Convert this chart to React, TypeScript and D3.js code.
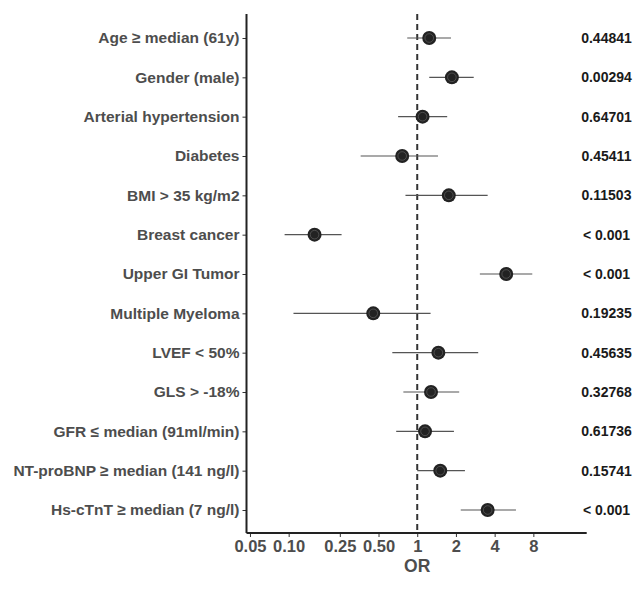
import { useEffect, useRef } from 'react';
import * as d3 from 'd3';

const labels = [
  'Age ≥ median (61y)',
  'Gender (male)',
  'Arterial hypertension',
  'Diabetes',
  'BMI > 35 kg/m2',
  'Breast cancer',
  'Upper GI Tumor',
  'Multiple Myeloma',
  'LVEF < 50%',
  'GLS > -18%',
  'GFR ≤ median (91ml/min)',
  'NT-proBNP ≥ median (141 ng/l)',
  'Hs-cTnT ≥ median (7 ng/l)',
];
const oddsRatio = [1.24, 1.86, 1.1, 0.764, 1.76, 0.159, 4.92, 0.455, 1.46, 1.28, 1.15, 1.51, 3.53];
const ciLow = [0.836, 1.24, 0.71, 0.363, 0.81, 0.093, 3.07, 0.109, 0.64, 0.78, 0.686, 1.0, 2.18];
const ciHigh = [1.83, 2.75, 1.71, 1.45, 3.53, 0.258, 7.85, 1.27, 2.98, 2.12, 1.93, 2.35, 5.86];
const pValues = [
  '0.44841', '0.00294', '0.64701', '0.45411', '0.11503', '< 0.001', '< 0.001',
  '0.19235', '0.45635', '0.32768', '0.61736', '0.15741', '< 0.001',
];
const xTicks = [0.05, 0.1, 0.25, 0.5, 1, 2, 4, 8];
const xTickLabels = ['0.05', '0.10', '0.25', '0.50', '1', '2', '4', '8'];

export default function App() {
  const svgRef = useRef<SVGSVGElement>(null);

  useEffect(() => {
    const width = 633;
    const height = 590;
    const font = '"Liberation Sans", Arial, sans-serif';
    const axisX = 246.5;
    const axisTop = 14;
    const axisBottom = 533;

    const x = d3.scaleLog().base(2).domain([0.047, 20.8]).range([axisX, 586.7]);
    const y = d3.scalePoint<string>().domain(labels).range([38, 510]);

    const rows = labels.map((label, i) => ({
      label,
      or: oddsRatio[i],
      lo: ciLow[i],
      hi: ciHigh[i],
      p: pValues[i],
    }));

    const svg = d3.select(svgRef.current).attr('width', width).attr('height', height);
    svg.selectAll('*').remove();
    svg.append('rect').attr('width', width).attr('height', height).attr('fill', '#fff');

    // reference line at OR = 1
    svg
      .append('line')
      .attr('x1', x(1))
      .attr('x2', x(1))
      .attr('y1', axisTop)
      .attr('y2', axisBottom)
      .attr('stroke', '#333')
      .attr('stroke-width', 2)
      .attr('stroke-dasharray', '6,4');

    // Confidence intervals
    svg
      .append('g')
      .selectAll('line')
      .data(rows)
      .enter()
      .append('line')
      .attr('x1', d => x(d.lo))
      .attr('x2', d => x(d.hi))
      .attr('y1', d => y(d.label)!)
      .attr('y2', d => y(d.label)!)
      .attr('stroke', '#555')
      .attr('stroke-width', 1.1);

    // Points
    const pts = svg.append('g').selectAll('g').data(rows).enter().append('g');
    pts
      .append('circle')
      .attr('cx', d => x(d.or))
      .attr('cy', d => y(d.label)!)
      .attr('r', 7)
      .attr('fill', '#222');
    pts
      .append('circle')
      .attr('cx', d => x(d.or))
      .attr('cy', d => y(d.label)!)
      .attr('r', 4.3)
      .attr('fill', 'none')
      .attr('stroke', '#6a6a6a')
      .attr('stroke-width', 0.6);

    // Y Axis
    const yAxis = svg
      .append('g')
      .attr('transform', `translate(${axisX},0)`)
      .call(d3.axisLeft(y).tickSize(4).tickPadding(3));
    yAxis.select('.domain').remove();
    yAxis.selectAll('line').attr('stroke', '#333').attr('stroke-width', 1);
    yAxis
      .selectAll('text')
      .attr('fill', '#4d4d4d')
      .style('font-family', font)
      .style('font-weight', 'bold')
      .style('font-size', '15.5px');
    svg
      .append('line')
      .attr('x1', axisX)
      .attr('x2', axisX)
      .attr('y1', axisTop)
      .attr('y2', axisBottom)
      .attr('stroke', '#222')
      .attr('stroke-width', 2);

    // X Axis
    const xAxis = svg
      .append('g')
      .attr('transform', `translate(0,${axisBottom})`)
      .call(
        d3
          .axisBottom(x)
          .tickValues(xTicks)
          .tickFormat((_, i) => xTickLabels[i])
          .tickSize(4)
          .tickPadding(3)
      );
    xAxis.select('.domain').remove();
    xAxis.selectAll('line').attr('stroke', '#333').attr('stroke-width', 1);
    xAxis
      .selectAll('text')
      .attr('fill', '#4d4d4d')
      .style('font-family', font)
      .style('font-weight', 'bold')
      .style('font-size', '16.5px');
    svg
      .append('line')
      .attr('x1', axisX)
      .attr('x2', 586.7)
      .attr('y1', axisBottom)
      .attr('y2', axisBottom)
      .attr('stroke', '#222')
      .attr('stroke-width', 2);

    svg
      .append('text')
      .attr('x', x(1))
      .attr('y', 572)
      .attr('text-anchor', 'middle')
      .attr('fill', '#4d4d4d')
      .style('font-family', font)
      .style('font-weight', 'bold')
      .style('font-size', '17.5px')
      .text('OR');

    // p-values
    svg
      .append('g')
      .selectAll('text')
      .data(rows)
      .enter()
      .append('text')
      .attr('x', 606.5)
      .attr('y', d => y(d.label)!)
      .attr('dy', '0.35em')
      .attr('text-anchor', 'middle')
      .attr('fill', '#1a1a1a')
      .style('font-family', font)
      .style('font-weight', 'bold')
      .style('font-size', '14px')
      .text(d => d.p);
  }, []);

  return (
    <svg ref={svgRef} style={{ position: 'absolute', left: 0, top: 0 }} width={633} height={590}></svg>
  );
}
